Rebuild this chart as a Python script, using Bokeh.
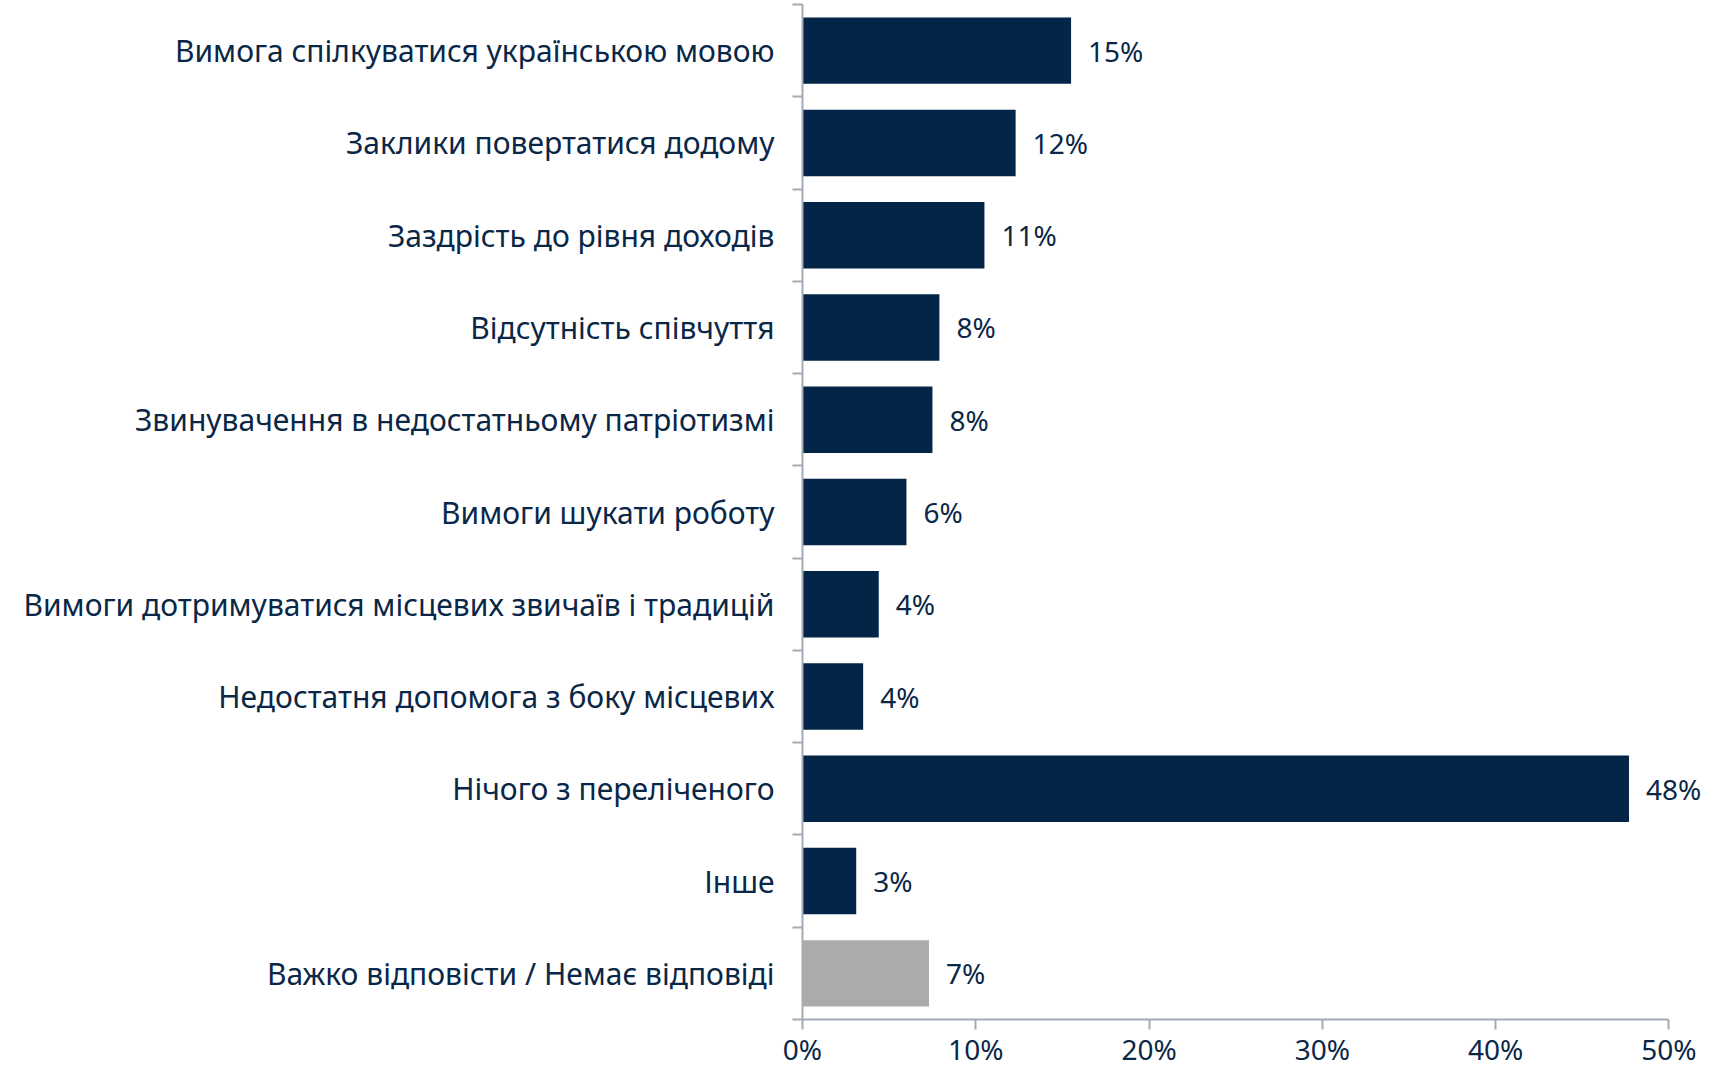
from bokeh.plotting import figure
from bokeh.models import Range1d, FixedTicker
from bokeh.core.properties import value
from bokeh.embed import file_html
from bokeh.resources import INLINE

categories = [
    "Вимога спілкуватися українською мовою",
    "Заклики повертатися додому",
    "Заздрість до рівня доходів",
    "Відсутність співчуття",
    "Звинувачення в недостатньому патріотизмі",
    "Вимоги шукати роботу",
    "Вимоги дотримуватися місцевих звичаїв і традицій",
    "Недостатня допомога з боку місцевих",
    "Нічого з переліченого",
    "Інше",
    "Важко відповісти / Немає відповіді",
]
values = [15.5, 12.3, 10.5, 7.9, 7.5, 6.0, 4.4, 3.5, 47.7, 3.1, 7.3]
value_labels = ["15%", "12%", "11%", "8%", "8%", "6%", "4%", "4%", "48%", "3%", "7%"]
x_ticks = [0, 10, 20, 30, 40, 50]
x_tick_labels = ["0%", "10%", "20%", "30%", "40%", "50%"]

NAVY = "#022548"
GRAY = "#ababab"
TEXT = "#0a2747"
AXIS = "#a3abb6"
FONT = "Noto Sans"

n = len(categories)
idx = list(range(n))
colors = [GRAY if c.startswith("Важко") else NAVY for c in categories]

p = figure(width=1703, height=1070, output_backend="svg", toolbar_location=None,
           x_range=Range1d(0, 52.0), y_range=Range1d(n - 0.5, -0.5),
           min_border_left=802, min_border_right=0, min_border_top=4, min_border_bottom=0)
p.outline_line_color = None
p.grid.visible = False
p.background_fill_color = "white"
p.border_fill_color = "white"

p.hbar(y=idx, right=values, left=0, height=0.72, fill_color=colors, line_color=None)
p.text(x=values, y=idx, text=value_labels, x_offset=17, text_baseline="middle",
       text_align="left", text_font=value(FONT), text_font_size="28px", text_color=TEXT)

# y axis: labels at category centres, ticks at category boundaries
yax = p.yaxis[0]
yax.ticker = FixedTicker(ticks=idx, minor_ticks=[i - 0.5 for i in range(n + 1)])
yax.major_label_overrides = {i: c for i, c in zip(idx, categories)}
yax.major_tick_out = 0
yax.major_tick_in = 0
yax.minor_tick_out = 10
yax.minor_tick_in = 0
yax.minor_tick_line_color = AXIS
yax.axis_line_color = AXIS
yax.axis_line_width = 2
yax.minor_tick_line_width = 2
yax.major_label_standoff = 18
yax.major_label_text_font = FONT
yax.major_label_text_font_size = "30px"
yax.major_label_text_color = TEXT

xax = p.xaxis[0]
xax.ticker = FixedTicker(ticks=x_ticks, minor_ticks=[])
xax.bounds = (0, 50)
xax.major_label_overrides = {t: l for t, l in zip(x_ticks, x_tick_labels)}
xax.major_tick_out = 10
xax.major_tick_in = 0
xax.major_tick_line_color = AXIS
xax.major_tick_line_width = 2
xax.axis_line_color = AXIS
xax.axis_line_width = 2
xax.major_label_standoff = 0
xax.major_label_text_font = FONT
xax.major_label_text_font_size = "28px"
xax.major_label_text_color = TEXT

open("out.html", "w").write(file_html(p, INLINE))
